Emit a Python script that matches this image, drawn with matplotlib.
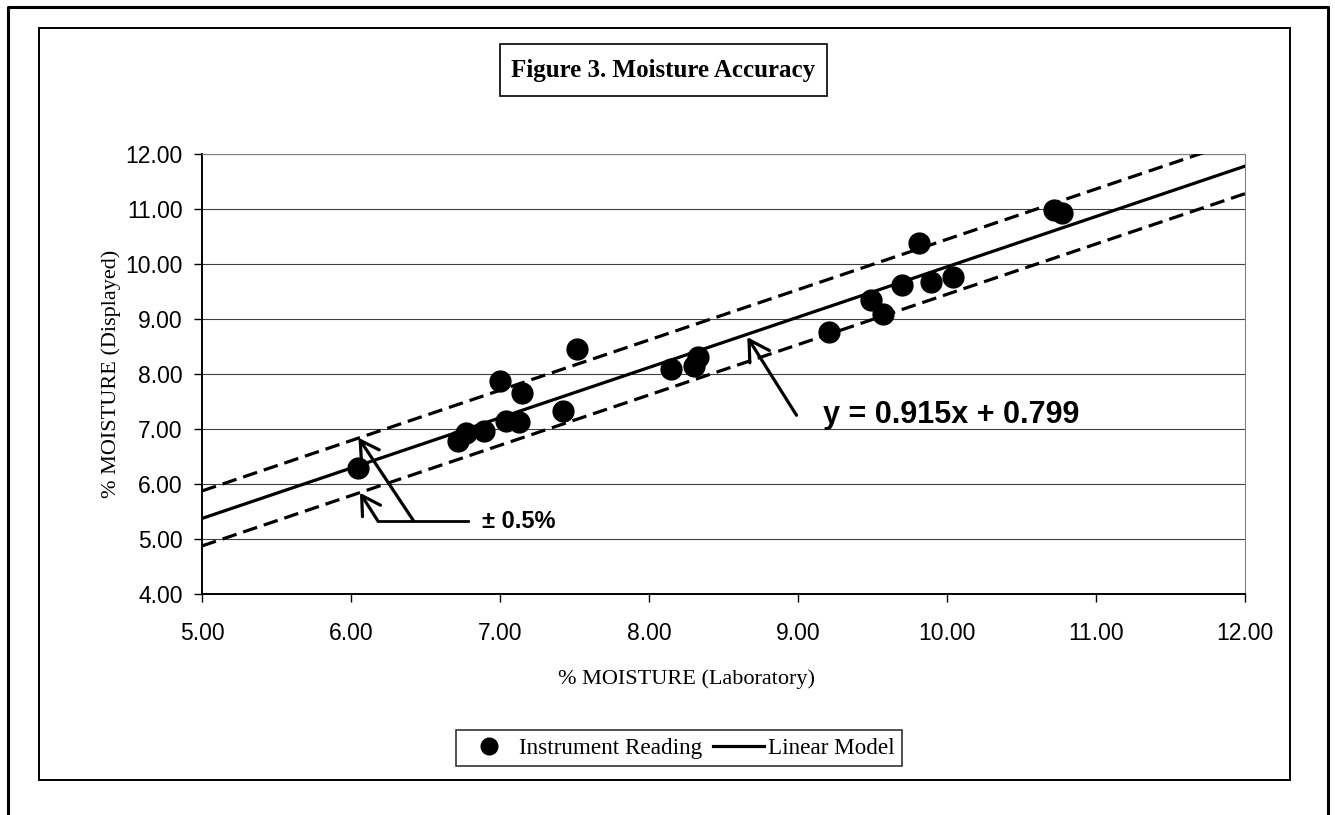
import numpy as np
import matplotlib
matplotlib.use("Agg")
import matplotlib.pyplot as plt
from matplotlib.lines import Line2D
from matplotlib.patches import Rectangle

# lab moisture vs displayed moisture
lab = [6.05, 6.72, 6.77, 6.89, 7.00, 7.04, 7.13, 7.15, 7.42, 7.52, 8.15,
       8.30, 8.33, 9.21, 9.49, 9.57, 9.70, 9.89, 10.04, 9.81, 10.72, 10.77]
displayed = [6.30, 6.78, 6.93, 6.97, 7.88, 7.15, 7.12, 7.66, 7.32, 8.45, 8.09,
             8.15, 8.30, 8.77, 9.35, 9.10, 9.62, 9.67, 9.77, 10.38, 10.98, 10.92]
slope = 0.915
intercept = 0.799
band = 0.5
x_range = [5.0, 12.0]
x_ticks = [5, 6, 7, 8, 9, 10, 11, 12]
y_ticks = [4, 5, 6, 7, 8, 9, 10, 11, 12]

W, H = 1335, 815
fig = plt.figure(figsize=(W / 100, H / 100), dpi=100)


def fx(px):
    return px / W


def fy(py):
    return 1 - py / H


ax = fig.add_axes([fx(202), fy(594), fx(1245) - fx(202), fy(154) - fy(594)])

xs = np.array(x_range)
fit = slope * xs + intercept
pts, = ax.plot(lab, displayed, "o", color="black", ms=15, label="Instrument Reading", zorder=4)
fit_line, = ax.plot(xs, fit, color="black", lw=2.3, label="Linear Model", zorder=3)
ax.plot(xs, fit + band, color="black", lw=2.3, dashes=(4.6, 2.2), zorder=3)
ax.plot(xs, fit - band, color="black", lw=2.3, dashes=(4.6, 2.2), zorder=3)

ax.set_xlim(5, 12)
ax.set_ylim(4, 12)
ax.set_xticks(x_ticks)
ax.set_yticks(y_ticks)
ax.xaxis.set_major_formatter(matplotlib.ticker.FormatStrFormatter("%.2f"))
ax.yaxis.set_major_formatter(matplotlib.ticker.FormatStrFormatter("%.2f"))
ax.tick_params(direction="out", length=6, width=1, labelsize=16.5, pad=8)
for lbl in ax.get_xticklabels() + ax.get_yticklabels():
    lbl.set_family("Liberation Sans")
ax.tick_params(axis="x", pad=14)
ax.grid(axis="y", color="#404040", lw=0.8)
ax.set_axisbelow(True)
ax.spines["left"].set_linewidth(1.4)
ax.spines["bottom"].set_linewidth(1.4)
ax.spines["top"].set_color("#808080")
ax.spines["right"].set_color("#808080")

ax.set_xlabel("% MOISTURE (Laboratory)", family="Liberation Serif", fontsize=16)
ax.set_ylabel("% MOISTURE (Displayed)", family="Liberation Serif", fontsize=16)
ax.xaxis.set_label_coords(0.465, -0.17)
ax.yaxis.set_label_coords(-0.078, 0.5)

arrow = "->,head_length=0.55,head_width=0.32"

# equation and its arrow
ax.annotate("", xy=(8.66, 8.67), xytext=(8.99, 7.25),
            arrowprops=dict(arrowstyle=arrow, lw=2.3, color="black", mutation_scale=26,
                            shrinkA=0, shrinkB=0))
ax.text(9.17, 7.11, "y = 0.915x + 0.799", family="Liberation Sans", weight="bold",
        fontsize=22, va="baseline", ha="left")

# +/- band label with two arrows
ax.plot([6.18, 6.785], [5.33, 5.33], color="black", lw=2.0)
ax.annotate("", xy=(6.06, 5.84), xytext=(6.18, 5.33),
            arrowprops=dict(arrowstyle=arrow, lw=2.3, color="black", mutation_scale=24,
                            shrinkA=0, shrinkB=0))
ax.annotate("", xy=(6.05, 6.84), xytext=(6.42, 5.33),
            arrowprops=dict(arrowstyle=arrow, lw=2.3, color="black", mutation_scale=24,
                            shrinkA=0, shrinkB=0))
ax.text(6.88, 5.2, "± 0.5%", family="Liberation Sans", weight="bold",
        fontsize=17, va="baseline", ha="left")

# legend
leg = fig.legend(handles=[pts, fit_line], loc="center", bbox_to_anchor=(fx(679), fy(748)),
                 ncol=2, prop=dict(family="Liberation Serif", size=16.7),
                 frameon=True, fancybox=False, edgecolor="black",
                 handlelength=2.2, handletextpad=0.2, columnspacing=0.45,
                 borderpad=0.3, borderaxespad=0.0, markerscale=0.8)
leg.get_frame().set_linewidth(1.2)

# title box
fig.add_artist(Rectangle((fx(500), fy(96)), fx(827) - fx(500), fy(44) - fy(96),
                         transform=fig.transFigure, fill=False, ec="black", lw=1.2))
fig.text(fx(663.5), fy(70), "Figure 3. Moisture Accuracy", family="Liberation Serif",
         weight="bold", fontsize=18, ha="center", va="center")

# chart area border and outer page border
fig.add_artist(Rectangle((fx(39), fy(780)), fx(1290) - fx(39), fy(28) - fy(780),
                         transform=fig.transFigure, fill=False, ec="black", lw=1.4))
fig.add_artist(Line2D([fx(8), fx(8), fx(1328), fx(1328)], [0, fy(7), fy(7), 0],
                      transform=fig.transFigure, color="black", lw=2.2))

fig.savefig("out.png", dpi=100)
